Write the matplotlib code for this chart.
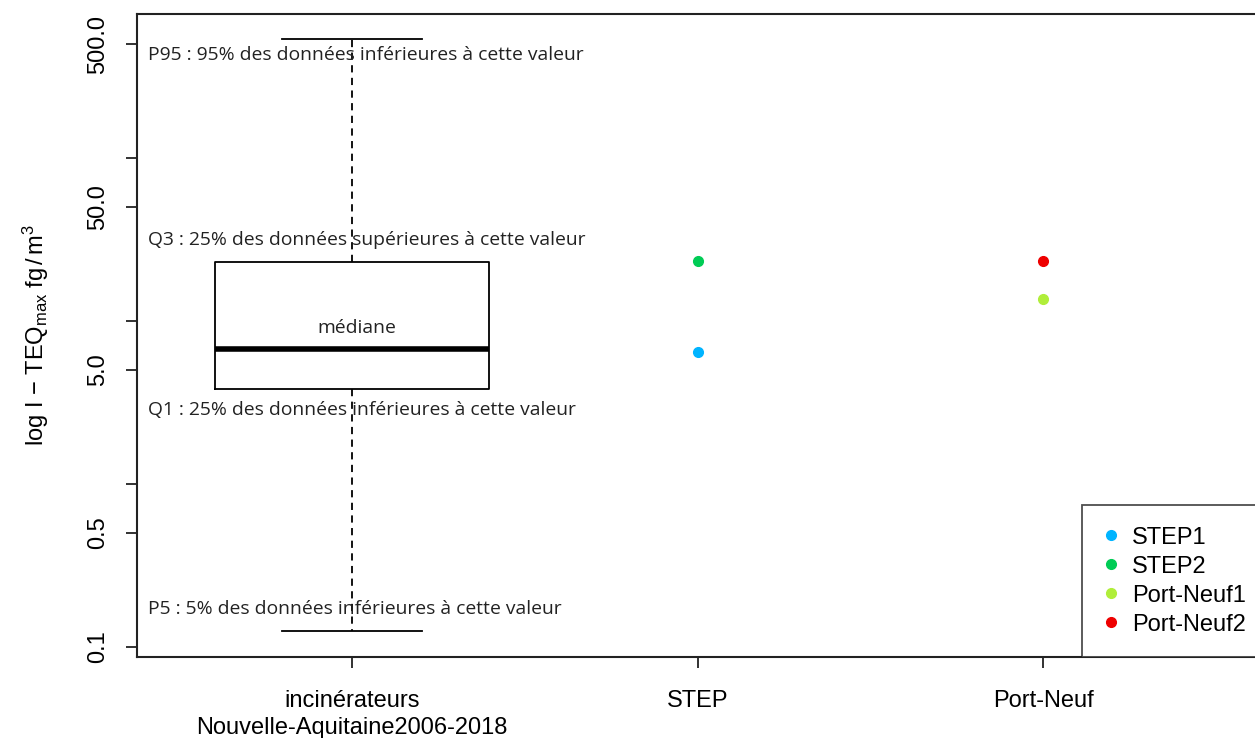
import matplotlib
matplotlib.use('Agg')
import matplotlib.pyplot as plt
from matplotlib.ticker import FixedLocator, NullLocator

plt.rcParams['font.family'] = ['Liberation Sans', 'DejaVu Sans']
plt.rcParams['mathtext.fontset'] = 'custom'
plt.rcParams['mathtext.rm'] = 'Liberation Sans'
plt.rcParams['mathtext.it'] = 'Liberation Sans'

# ---------------------------------------------------------------------------
# Data
# ---------------------------------------------------------------------------
categories = ['incinérateurs\nNouvelle-Aquitaine2006-2018', 'STEP', 'Port-Neuf']

# incinerator distribution (P5, Q1, median, Q3, P95)
box_p5 = 0.125
box_q1 = 3.8
box_med = 6.7
box_q3 = 23.0
box_p95 = 540.0

point_names = ['STEP1', 'STEP2', 'Port-Neuf1', 'Port-Neuf2']
point_cat = [2, 2, 3, 3]
point_vals = [6.45, 23.3, 13.6, 23.3]
point_colors = ['#00B4FF', '#00CC55', '#B0EE3A', '#EE0000']

ytick_vals = [0.1, 0.5, 1, 5, 10, 50, 100, 500]
ytick_labels = ['0.1', '0.5', '', '5.0', '', '50.0', '', '500.0']

annotations = [
    (428.0, 'P95 : 95% des données inférieures à cette valeur'),
    (31.4, 'Q3 : 25% des données supérieures à cette valeur'),
    (2.85, 'Q1 : 25% des données inférieures à cette valeur'),
    (0.171, 'P5 : 5% des données inférieures à cette valeur'),
]

# ---------------------------------------------------------------------------
# Figure
# ---------------------------------------------------------------------------
fig = plt.figure(figsize=(12.55, 7.38), dpi=100)
ax = fig.add_axes([137 / 1255, 81 / 738, 1121 / 1255, 643 / 738])

stats = [dict(med=box_med, q1=box_q1, q3=box_q3, whislo=box_p5, whishi=box_p95)]
ax.bxp(stats, positions=[1], widths=0.795, showfliers=False,
       boxprops=dict(color='black', linewidth=1.3),
       medianprops=dict(color='black', linewidth=4),
       whiskerprops=dict(color='black', linewidth=1.3, linestyle=(0, (4, 3))),
       capprops=dict(color='black', linewidth=1.3),
       capwidths=0.405)

for name, cx, val, col in zip(point_names, point_cat, point_vals, point_colors):
    ax.plot(cx, val, 'o', color=col, markersize=7, label=name)

ax.set_yscale('log')
ax.set_ylim(0.0868, 764)
ax.set_xlim(0.378, 3.622)

ax.yaxis.set_major_locator(FixedLocator(ytick_vals))
ax.yaxis.set_minor_locator(NullLocator())
ax.set_yticklabels(ytick_labels, rotation=90, va='center', fontsize=17)
ax.set_xticks([1, 2, 3])
ax.set_xticklabels(categories, fontsize=17, linespacing=1.25)
ax.tick_params(axis='both', direction='out', length=8, width=1.3, color='#222222')
ax.tick_params(axis='y', pad=12)
ax.tick_params(axis='x', pad=16)

for sp in ax.spines.values():
    sp.set_linewidth(1.5)
    sp.set_color('#222222')

ax.set_ylabel(r'log I $-$ TEQ$_{\mathrm{max}}$ fg$\,/\,$m$^3$', fontsize=17, labelpad=26)

# annotation texts
for yv, txt in annotations:
    ax.text(0.41, yv, txt, ha='left', va='center', fontsize=13.9,
            family=['Open Sans', 'DejaVu Sans'], color='#222222')
ax.text(1.015, 9.0, 'médiane', ha='center', va='center', fontsize=13.9,
        family=['Open Sans', 'DejaVu Sans'], color='#222222')

leg = ax.legend(loc='lower right', bbox_to_anchor=(1.0 + 9 / 1121, 0.0), fontsize=17,
                frameon=True, fancybox=False, edgecolor='#222222',
                borderaxespad=0, handlelength=0.6, handletextpad=0.6,
                labelspacing=0.3, borderpad=0.9)
leg.get_frame().set_linewidth(1.3)

fig.savefig('out.png', dpi=100)
